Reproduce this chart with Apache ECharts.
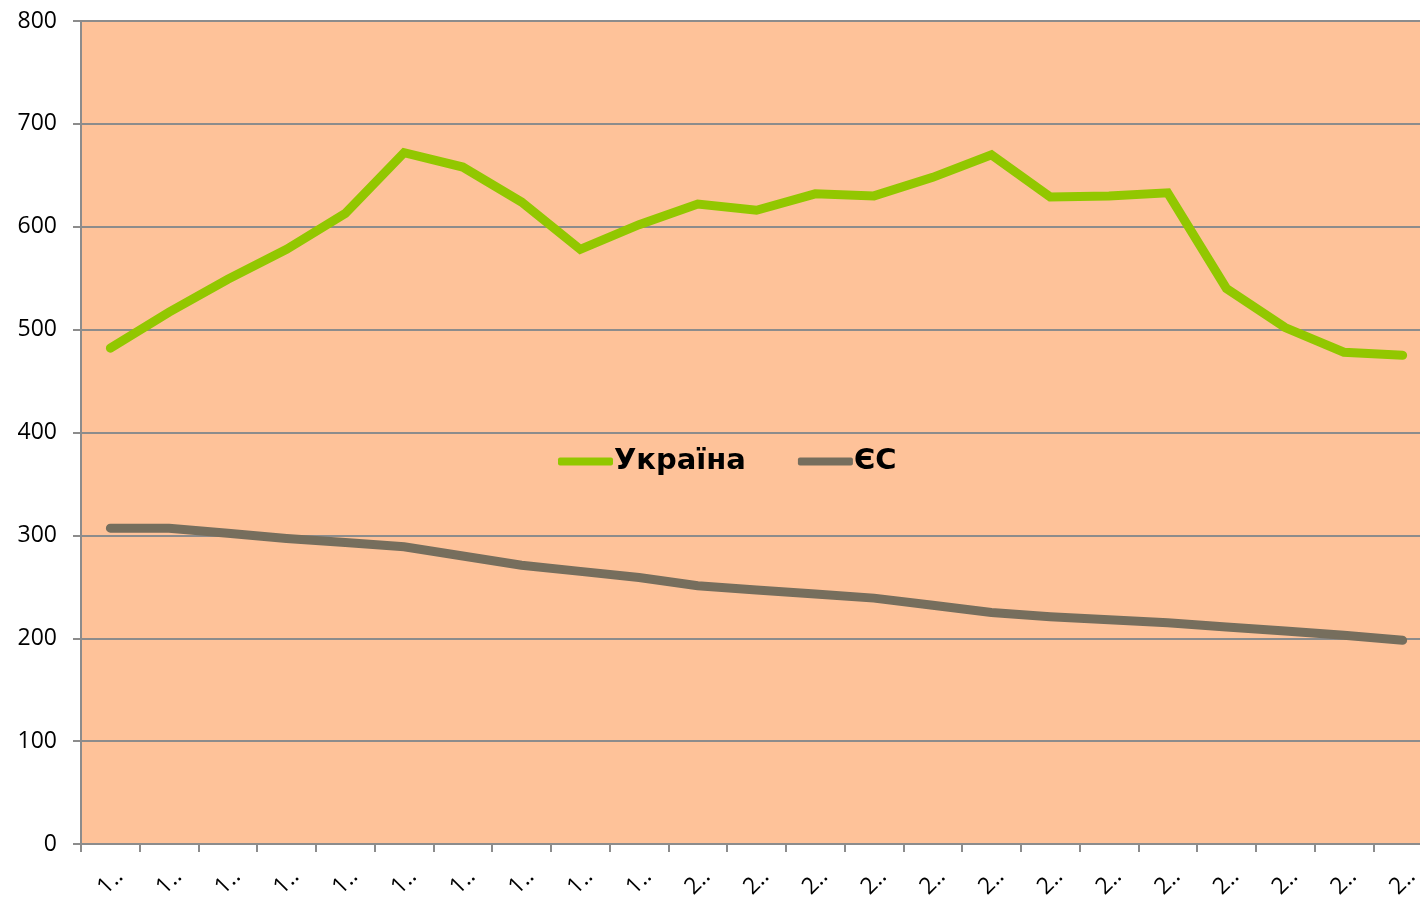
<!DOCTYPE html>
<html>
<head>
<meta charset="utf-8">
<script src="https://cdn.jsdelivr.net/npm/echarts@6/dist/echarts.min.js"></script>
<style>
    html, body { margin: 0; padding: 0; background: #fff; }
    #chart { width: 1420px; height: 899px; }
</style>
</head>
<body>
<div id="chart"></div>
<script>
    // years, shown truncated like in the original ("1.." / "2..")
    var years = ['1990', '1991', '1992', '1993', '1994', '1995', '1996', '1997', '1998', '1999',
        '2000', '2001', '2002', '2003', '2004', '2005', '2006', '2007', '2008', '2009', '2010', '2011', '2012'];
    var ukraine = [482, 517, 549, 578, 613, 672, 658, 624, 578, 602, 622, 616, 632, 630, 648, 670,
        629, 630, 633, 540, 502, 478, 475];
    var eu = [307, 307, 302, 297, 293, 289, 280, 271, 265, 259, 251, 247, 243, 239, 232, 225,
        221, 218, 215, 211, 207, 203, 198];
    var yTicks = [0, 100, 200, 300, 400, 500, 600, 700, 800];

    var chart = echarts.init(document.getElementById('chart'));
    chart.setOption({
        animation: false,
        textStyle: { fontFamily: 'Open Sans' },
        // plot runs a bit past the right edge, as in the original picture
        grid: {
            left: 81, right: -12, top: 21, bottom: 55,
            containLabel: false, outerBoundsMode: 'none',
            show: true, backgroundColor: '#FEC299', borderWidth: 0
        },
        legend: {
            top: 442,
            left: 553,
            itemWidth: 55,
            itemHeight: 8,
            itemGap: 52,
            icon: 'roundRect',
            textStyle: { fontSize: 29, fontWeight: 'bold', color: '#000', fontFamily: 'DejaVu Sans', padding: [0, 0, 0, -4] },
            data: ['Україна', 'ЄС']
        },
        xAxis: {
            type: 'category',
            data: years,
            boundaryGap: true,
            axisLine: { lineStyle: { color: '#8c8c8c', width: 2 } },
            axisTick: { show: true, length: 8, lineStyle: { color: '#8c8c8c', width: 2 } },
            axisLabel: {
                rotate: 45,
                align: 'center',
                verticalAlign: 'middle',
                margin: 38,
                fontSize: 23,
                color: '#000',
                formatter: function (v) { return v.charAt(0) + '..'; }
            }
        },
        yAxis: {
            type: 'value',
            min: yTicks[0],
            max: yTicks[yTicks.length - 1],
            interval: 100,
            axisLine: { show: true, lineStyle: { color: '#8c8c8c', width: 2 } },
            axisTick: { show: true, length: 8, lineStyle: { color: '#8c8c8c', width: 2 } },
            axisLabel: { fontSize: 23, color: '#000', margin: 24 },
            splitLine: { lineStyle: { color: '#8c8c8c', width: 2 } }
        },
        series: [
            {
                name: 'Україна',
                type: 'line',
                data: ukraine,
                symbol: 'none',
                color: '#92C700',
                lineStyle: { width: 9, cap: 'round', join: 'miter' }
            },
            {
                name: 'ЄС',
                type: 'line',
                data: eu,
                symbol: 'none',
                color: '#766E5D',
                lineStyle: { width: 9, cap: 'round', join: 'miter' }
            }
        ]
    });
</script>
</body>
</html>
